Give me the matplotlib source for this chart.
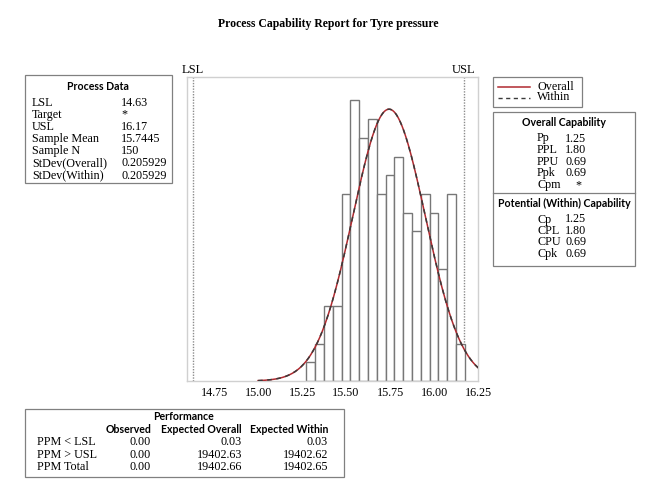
import numpy as np
import matplotlib
matplotlib.use("Agg")
import matplotlib.pyplot as plt
from matplotlib.patches import Rectangle
from matplotlib.lines import Line2D

# ---------------- data ----------------
bin_lefts = [15.275, 15.325, 15.375, 15.425, 15.475, 15.525, 15.575, 15.625, 15.675,
             15.725, 15.775, 15.825, 15.875, 15.925, 15.975, 16.025, 16.075, 16.125]
counts = [1, 2, 4, 4, 10, 15, 13, 14, 10, 11, 12, 9, 8, 10, 9, 6, 10, 2]
bin_width = 0.05
lsl = 14.63
usl = 16.17
mean = 15.7445
sd_overall = 0.205929
sd_within = 0.205929
n_obs = 150
xticks = [14.75, 15.00, 15.25, 15.50, 15.75, 16.00, 16.25]

process_labels = ["LSL", "Target", "USL", "Sample Mean", "Sample N", "StDev(Overall)", "StDev(Within)"]
process_values = ["14.63", "*", "16.17", "15.7445", "150", "0.205929", "0.205929"]
overall_labels = ["Pp", "PPL", "PPU", "Ppk", "Cpm"]
overall_values = ["1.25", "1.80", "0.69", "0.69", "*"]
within_labels = ["Cp", "CPL", "CPU", "Cpk"]
within_values = ["1.25", "1.80", "0.69", "0.69"]
perf_rows = ["PPM < LSL", "PPM > USL", "PPM Total"]
perf_cols = ["Observed", "Expected Overall", "Expected Within"]
perf_observed = ["0.00", "0.00", "0.00"]
perf_exp_overall = ["0.03", "19402.63", "19402.66"]
perf_exp_within = ["0.03", "19402.62", "19402.65"]

# ---------------- figure ----------------
W, H = 657, 483
fig = plt.figure(figsize=(W / 100, H / 100), dpi=100)
SERIF = "Liberation Serif"
SANS = "Lato"
HW = "bold"
FS = 8.7
HFS = 7.6


def fx(x):
    return x / W


def fy(y):
    return 1 - y / H


def ftext(x, y, s, **kw):
    fig.text(fx(x), fy(y), s, transform=fig.transFigure, **kw)


def fbox(x0, y0, x1, y1, ec="#808080", lw=0.9):
    fig.add_artist(Rectangle((fx(x0), fy(y1)), fx(x1) - fx(x0), fy(y0) - fy(y1),
                             transform=fig.transFigure, fill=False, ec=ec, lw=lw))


def fline(x0, y0, x1, y1, **kw):
    fig.add_artist(Line2D([fx(x0), fx(x1)], [fy(y0), fy(y1)], transform=fig.transFigure, **kw))


# title
ftext(W / 2, 24, "Process Capability Report for Tyre pressure", ha="center", va="center",
      family=SERIF, fontweight="bold", fontsize=8.5)

# main axes
ax_l, ax_r, ax_t, ax_b = 187, 478, 77, 381
ax = fig.add_axes([fx(ax_l), fy(ax_b), fx(ax_r) - fx(ax_l), fy(ax_t) - fy(ax_b)])
ax.bar(bin_lefts, counts, width=bin_width, align="edge", facecolor="white",
       edgecolor="#777777", linewidth=1.0, zorder=2)
xs = np.linspace(15.0, 16.3, 400)
pdf_o = n_obs * bin_width * np.exp(-0.5 * ((xs - mean) / sd_overall) ** 2) / (sd_overall * np.sqrt(2 * np.pi))
pdf_w = n_obs * bin_width * np.exp(-0.5 * ((xs - mean) / sd_within) ** 2) / (sd_within * np.sqrt(2 * np.pi))
ax.plot(xs, pdf_o, color="#b02a30", lw=1.1, zorder=3)
ax.plot(xs, pdf_w, color="#3a3a3a", lw=1.1, ls=(0, (3, 3)), zorder=4)
ax.axvline(lsl, color="#8c8c8c", lw=1.0, ls=(0, (1, 1)), zorder=1)
ax.axvline(usl, color="#8c8c8c", lw=1.0, ls=(0, (1, 1)), zorder=1)
ax.set_xlim(14.596, 16.25)
ax.set_ylim(0, 16.25)
ax.set_yticks([])
ax.set_xticks(xticks)
ax.set_xticklabels([f"{t:.2f}" for t in xticks], family=SERIF, fontsize=FS)
ax.tick_params(axis="x", length=0, pad=4)
for s in ax.spines.values():
    s.set_color("#d0d0d0")
    s.set_linewidth(1.0)
ax.text(lsl, 1.004, "LSL", transform=ax.get_xaxis_transform(), ha="center", va="bottom",
        family=SERIF, fontsize=FS + 0.3)
ax.text(usl, 1.004, "USL", transform=ax.get_xaxis_transform(), ha="center", va="bottom",
        family=SERIF, fontsize=FS + 0.3)

# Process data box
fbox(25, 75, 172, 183)
ftext(98, 86, "Process Data", ha="center", va="center", family=SANS, fontweight=HW, fontsize=HFS)
for i, (lab, val) in enumerate(zip(process_labels, process_values)):
    y = 102.5 + i * 12.2
    ftext(32, y, lab, ha="left", va="center", family=SERIF, fontsize=FS)
    ftext(121, y, val, ha="left", va="center", family=SERIF, fontsize=FS)

# Legend box
fbox(493, 77, 582, 107)
fline(498, 86.5, 530, 86.5, color="#b02a30", lw=1.1)
fline(498, 97.5, 530, 97.5, color="#3a3a3a", lw=1.0, ls=(0, (3, 2.5)))
ftext(537, 86.5, "Overall", ha="left", va="center", family=SERIF, fontsize=FS)
ftext(537, 97.5, "Within", ha="left", va="center", family=SERIF, fontsize=FS)

# Capability box
fbox(493, 112, 635, 266)
ftext(564, 122, "Overall Capability", ha="center", va="center", family=SANS, fontweight=HW, fontsize=HFS)
for i, (lab, val) in enumerate(zip(overall_labels, overall_values)):
    y = 138.5 + i * 11.6
    ftext(537, y, lab, ha="left", va="center", family=SERIF, fontsize=FS)
    if val == "*":
        ftext(578, y, val, ha="center", va="center", family=SERIF, fontsize=FS)
    else:
        ftext(565, y, val, ha="left", va="center", family=SERIF, fontsize=FS)
fline(493, 193, 635, 193, color="#808080", lw=0.9)
ftext(564, 203, "Potential (Within) Capability", ha="center", va="center", family=SANS,
      fontweight=HW, fontsize=HFS)
for i, (lab, val) in enumerate(zip(within_labels, within_values)):
    y = 219.5 + i * 11.4
    ftext(537, y, lab, ha="left", va="center", family=SERIF, fontsize=FS)
    ftext(565, y, val, ha="left", va="center", family=SERIF, fontsize=FS)

# Performance box
fbox(25, 409, 344, 477)
ftext(184, 416, "Performance", ha="center", va="center", family=SANS, fontweight=HW, fontsize=HFS)
col_right = [151, 242, 328]
for c, xr in zip(perf_cols, col_right):
    ftext(xr, 429.5, c, ha="right", va="center", family=SANS, fontweight=HW, fontsize=HFS)
for i, lab in enumerate(perf_rows):
    y = 442 + i * 12.5
    ftext(37, y, lab, ha="left", va="center", family=SERIF, fontsize=FS)
    for vals, xr in zip([perf_observed, perf_exp_overall, perf_exp_within], col_right):
        ftext(xr, y, vals[i], ha="right", va="center", family=SERIF, fontsize=FS)

fig.savefig("out.png", dpi=100)
